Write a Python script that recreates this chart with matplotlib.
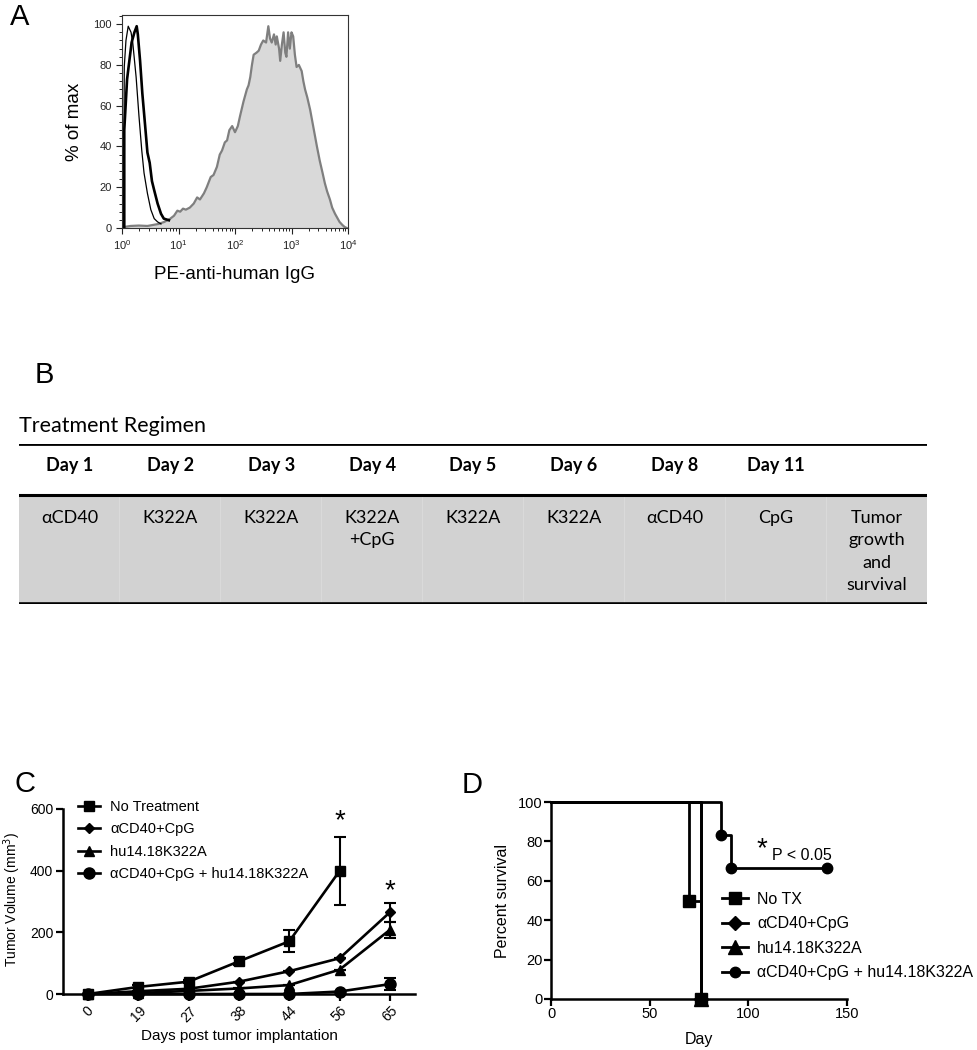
import numpy as np
import matplotlib
matplotlib.use('Agg')
import matplotlib.pyplot as plt
from matplotlib.ticker import MultipleLocator, LogLocator, NullFormatter

plt.rcParams['font.family'] = ['Liberation Sans', 'DejaVu Sans']

# ── Panel A: flow histogram (log10 decade, % of max) ──
stain_dec = [0.04, 0.15, 0.3, 0.45, 0.55, 0.65, 0.75, 0.85, 0.92, 0.98, 1.03, 1.08, 1.13, 1.2,
             1.27, 1.33, 1.38, 1.45, 1.5, 1.57, 1.62, 1.68, 1.73, 1.77, 1.82, 1.86, 1.9, 1.95,
             2.0, 2.05, 2.09, 2.15, 2.21, 2.24, 2.27, 2.3, 2.33, 2.38, 2.42, 2.46, 2.5, 2.55,
             2.59, 2.62, 2.65, 2.69, 2.72, 2.74, 2.78, 2.8, 2.83, 2.86, 2.89, 2.91, 2.94, 2.97,
             3.0, 3.03, 3.06, 3.09, 3.13, 3.18, 3.21, 3.24, 3.28, 3.33, 3.37, 3.41, 3.45, 3.5,
             3.55, 3.59, 3.63, 3.68, 3.72, 3.77, 3.81, 3.85, 3.9, 3.94, 3.98]
stain_pct = [0.5, 1, 1.2, 1.0, 1.5, 2.0, 3.0, 4.5, 6, 8.5, 8, 9.5, 9, 10,
             12, 15, 14, 17, 20, 25, 26, 30, 36, 38, 42, 43, 48, 50,
             47, 50, 55, 62, 68, 70, 74, 80, 85, 86, 87, 90, 92, 91,
             99, 93, 91, 95, 90, 94, 88, 82, 90, 96, 86, 84, 96, 88,
             96, 94, 85, 79, 80, 77, 72, 68, 64, 58, 52, 46, 40, 33,
             27, 22, 18, 14, 10, 7, 5, 3, 1.5, 0.5, 0]
ctrl_dec = [0.04, 0.04, 0.09, 0.17, 0.22, 0.26, 0.28, 0.32, 0.36, 0.41, 0.45, 0.49, 0.53,
            0.57, 0.63, 0.69, 0.74, 0.83]
ctrl_pct = [0, 48, 73, 91, 96, 99, 95, 82, 66, 50, 37, 32, 23, 18.5, 12, 7, 4.6, 3.8]
iso_dec = [0.03, 0.04, 0.07, 0.11, 0.16, 0.19, 0.25, 0.3, 0.35, 0.39, 0.45, 0.51, 0.57, 0.63, 0.69]
iso_pct = [0.5, 79, 92, 99, 96, 91, 74, 55, 38, 27, 17, 9, 4.6, 3, 2]

# ── Panel B: treatment regimen ──
days = ['Day 1', 'Day 2', 'Day 3', 'Day 4', 'Day 5', 'Day 6', 'Day 8', 'Day 11', '']
treatments = ['αCD40', 'K322A', 'K322A', 'K322A\n+CpG', 'K322A', 'K322A', 'αCD40', 'CpG',
              'Tumor\ngrowth\nand\nsurvival']

# ── Panel C: tumor volume ──
c_days = ['0', '19', '27', '38', '44', '56', '65']
c_groups = ['No Treatment', 'αCD40+CpG', 'hu14.18K322A', 'αCD40+CpG + hu14.18K322A']
no_tx_vol = [0, 23, 40, 106, 171, 399]
no_tx_err = [0, 5, 5, 11, 36, 110]
cpg_vol = [0, 9, 17, 40, 74, 116, 265]
cpg_err = [0, 0, 0, 0, 0, 0, 30]
k322a_vol = [0, 3, 10, 18, 29, 79, 208]
k322a_err = [0, 0, 0, 0, 0, 0, 27]
combo_vol = [0, 0, 0, 0, 0, 8, 32]
combo_err = [0, 0, 0, 0, 0, 0, 19]

# ── Panel D: survival (step curves) ──
d_groups = ['No TX', 'αCD40+CpG', 'hu14.18K322A', 'αCD40+CpG + hu14.18K322A']
surv_notx_t = [0, 70, 70, 76, 76]
surv_notx_p = [100, 100, 50, 50, 0]
surv_cpg_t = [0, 76, 76]
surv_cpg_p = [100, 100, 0]
surv_k_t = [0, 76, 76]
surv_k_p = [100, 100, 0]
surv_combo_t = [0, 86, 86, 91, 91, 140]
surv_combo_p = [100, 100, 83.3, 83.3, 66.7, 66.7]

W, H = 977, 1050
fig = plt.figure(figsize=(W / 100, H / 100), dpi=100)


def box(l, t, r, b):
    return [l / W, 1 - b / H, (r - l) / W, (b - t) / H]


def letter(x, y, s):
    fig.text(x / W, 1 - y / H, s, fontsize=21, va='baseline', ha='left')


# ---------------- A ----------------
axA = fig.add_axes(box(122, 15, 348, 228))
sx = [10 ** d for d in stain_dec]
axA.fill_between(sx, stain_pct, color='#d9d9d9', lw=0)
axA.plot(sx, stain_pct, color='#7f7f7f', lw=1.6)
axA.plot([10 ** d for d in iso_dec], iso_pct, color='black', lw=0.9)
axA.plot([10 ** d for d in ctrl_dec], ctrl_pct, color='black', lw=1.9)
axA.set_xscale('log')
axA.set_xlim(1, 1e4)
axA.set_ylim(0, 104.5)
axA.yaxis.set_major_locator(MultipleLocator(20))
axA.yaxis.set_minor_locator(MultipleLocator(4))
axA.xaxis.set_major_locator(LogLocator(base=10, numticks=10))
axA.xaxis.set_minor_locator(LogLocator(base=10, subs=np.arange(2, 10), numticks=20))
axA.xaxis.set_minor_formatter(NullFormatter())
axA.tick_params(labelsize=8, length=4, width=0.8, colors='#222222')
axA.tick_params(which='minor', length=2.5, width=0.6)
for s in axA.spines.values():
    s.set_linewidth(0.8)
    s.set_color('#333333')
axA.set_ylabel('% of max', fontsize=13.5, labelpad=7)
axA.set_xlabel('PE-anti-human IgG', fontsize=13.5, labelpad=10)
letter(10, 25, 'A')

# ---------------- B ----------------
letter(35, 383, 'B')
fig.text(19 / W, 1 - 432 / H, 'Treatment Regimen', fontsize=15.5, family='Lato', va='baseline')
axB = fig.add_axes(box(19, 444, 927, 604))
axB.set_xlim(0, len(days))
axB.set_ylim(0, 1)
axB.axis('off')
hdr_y = 0.681
axB.axhspan(0, hdr_y, color='#dadada', lw=0, zorder=0)
for i in range(len(days)):
    axB.axvspan(i + 0.004, i + 0.996, ymin=0, ymax=hdr_y, color='#d2d2d2', lw=0)
axB.axhline(1.0, color='black', lw=2.0)
axB.axhline(hdr_y, color='black', lw=2.2)
axB.axhline(0.0, color='black', lw=2.6)
for i, (d, t) in enumerate(zip(days, treatments)):
    axB.text(i + 0.5, 0.8625, d, ha='center', va='center', fontsize=13, fontweight='bold',
             family='Lato')
    axB.text(i + 0.5, 0.59, t, ha='center', va='top', fontsize=13, family='Lato',
             linespacing=1.5)

# ---------------- C ----------------
axC = fig.add_axes(box(63, 809, 415, 994))
xi = np.arange(len(c_days))
kw = dict(color='black', lw=1.9, capsize=4, elinewidth=1.5, capthick=1.5, clip_on=False)
c_mk = [('s', 7.5), ('D', 5), ('^', 7.5), ('o', 8)]
axC.errorbar(xi[:len(no_tx_vol)], no_tx_vol, yerr=no_tx_err, marker='s', ms=7.5, **kw)
axC.errorbar(xi, cpg_vol, yerr=cpg_err, marker='D', ms=5, **kw)
axC.errorbar(xi, k322a_vol, yerr=k322a_err, marker='^', ms=7.5, **kw)
axC.errorbar(xi, combo_vol, yerr=combo_err, marker='o', ms=8, **kw)
axC.set_xlim(-0.5, 6.5)
axC.set_ylim(0, 600)
axC.set_xticks(xi)
axC.set_xticklabels(c_days, rotation=45, ha='center')
axC.set_yticks([0, 200, 400, 600])
axC.spines[['top', 'right']].set_visible(False)
for s in ('left', 'bottom'):
    axC.spines[s].set_linewidth(1.8)
axC.tick_params(labelsize=10, length=5, width=1.6, pad=2)
axC.text(5, 560, '*', fontsize=20, ha='center', va='center')
axC.text(6, 335, '*', fontsize=20, ha='center', va='center')
axC.set_xlabel('Days post tumor implantation', fontsize=11, labelpad=3)
axC.set_ylabel('Tumor Volume (mm$^3$)', fontsize=10)
axC.yaxis.set_label_coords(-0.115, 0.51)
hc = [plt.Line2D([], [], color='black', lw=1.9, marker=m, ms=s) for m, s in c_mk]
axC.legend(hc, c_groups, loc='upper left', bbox_to_anchor=(0.043, 1.05), frameon=False,
           fontsize=10.5, handlelength=1.5, handletextpad=0.7, labelspacing=0.58,
           borderpad=0, borderaxespad=0)
letter(15, 792, 'C')

# ---------------- D ----------------
axD = fig.add_axes(box(551, 802, 847, 999))
lkw = dict(color='black', lw=2.0, clip_on=False)
axD.plot(surv_cpg_t, surv_cpg_p, **lkw)
axD.plot(surv_k_t, surv_k_p, **lkw)
axD.plot(surv_combo_t, surv_combo_p, **lkw)
axD.plot(surv_notx_t, surv_notx_p, **lkw)
axD.plot([surv_cpg_t[-1]], [surv_cpg_p[-1]], marker='D', ms=7, **lkw)
axD.plot([surv_k_t[-1]], [surv_k_p[-1]], marker='^', ms=10, **lkw)
axD.plot(surv_notx_t[2::2], surv_notx_p[2::2], marker='s', ms=8, ls='none', color='black',
         clip_on=False)
axD.plot(surv_combo_t[2::2] + [surv_combo_t[-1]], surv_combo_p[2::2] + [surv_combo_p[-1]],
         marker='o', ms=7.5, ls='none', color='black', clip_on=False)
axD.set_xlim(0, 150)
axD.set_ylim(0, 100)
axD.set_xticks([0, 50, 100, 150])
axD.set_yticks([0, 20, 40, 60, 80, 100])
axD.spines[['top', 'right']].set_visible(False)
for s in ('left', 'bottom'):
    axD.spines[s].set_linewidth(1.8)
axD.tick_params(labelsize=10.5, length=5, width=1.6, pad=1)
axD.set_xlabel('Day', fontsize=11.5, labelpad=8)
axD.set_ylabel('Percent survival', fontsize=11.5, labelpad=6)
hd = [plt.Line2D([], [], color='black', lw=2.0, marker=m, ms=s)
      for m, s in [('s', 8), ('D', 7), ('^', 10), ('o', 7.5)]]
axD.legend(hd, d_groups, loc='upper left', bbox_to_anchor=(0.578, 0.545), frameon=False,
           fontsize=11.5, handlelength=1.6, handletextpad=0.6, labelspacing=0.6,
           borderpad=0, borderaxespad=0)
axD.text(107, 76, '*', fontsize=20, ha='center', va='center')
axD.text(112, 73, 'P < 0.05', fontsize=11.5, ha='left', va='center')
letter(462, 793, 'D')

fig.savefig('out.png', dpi=100)
